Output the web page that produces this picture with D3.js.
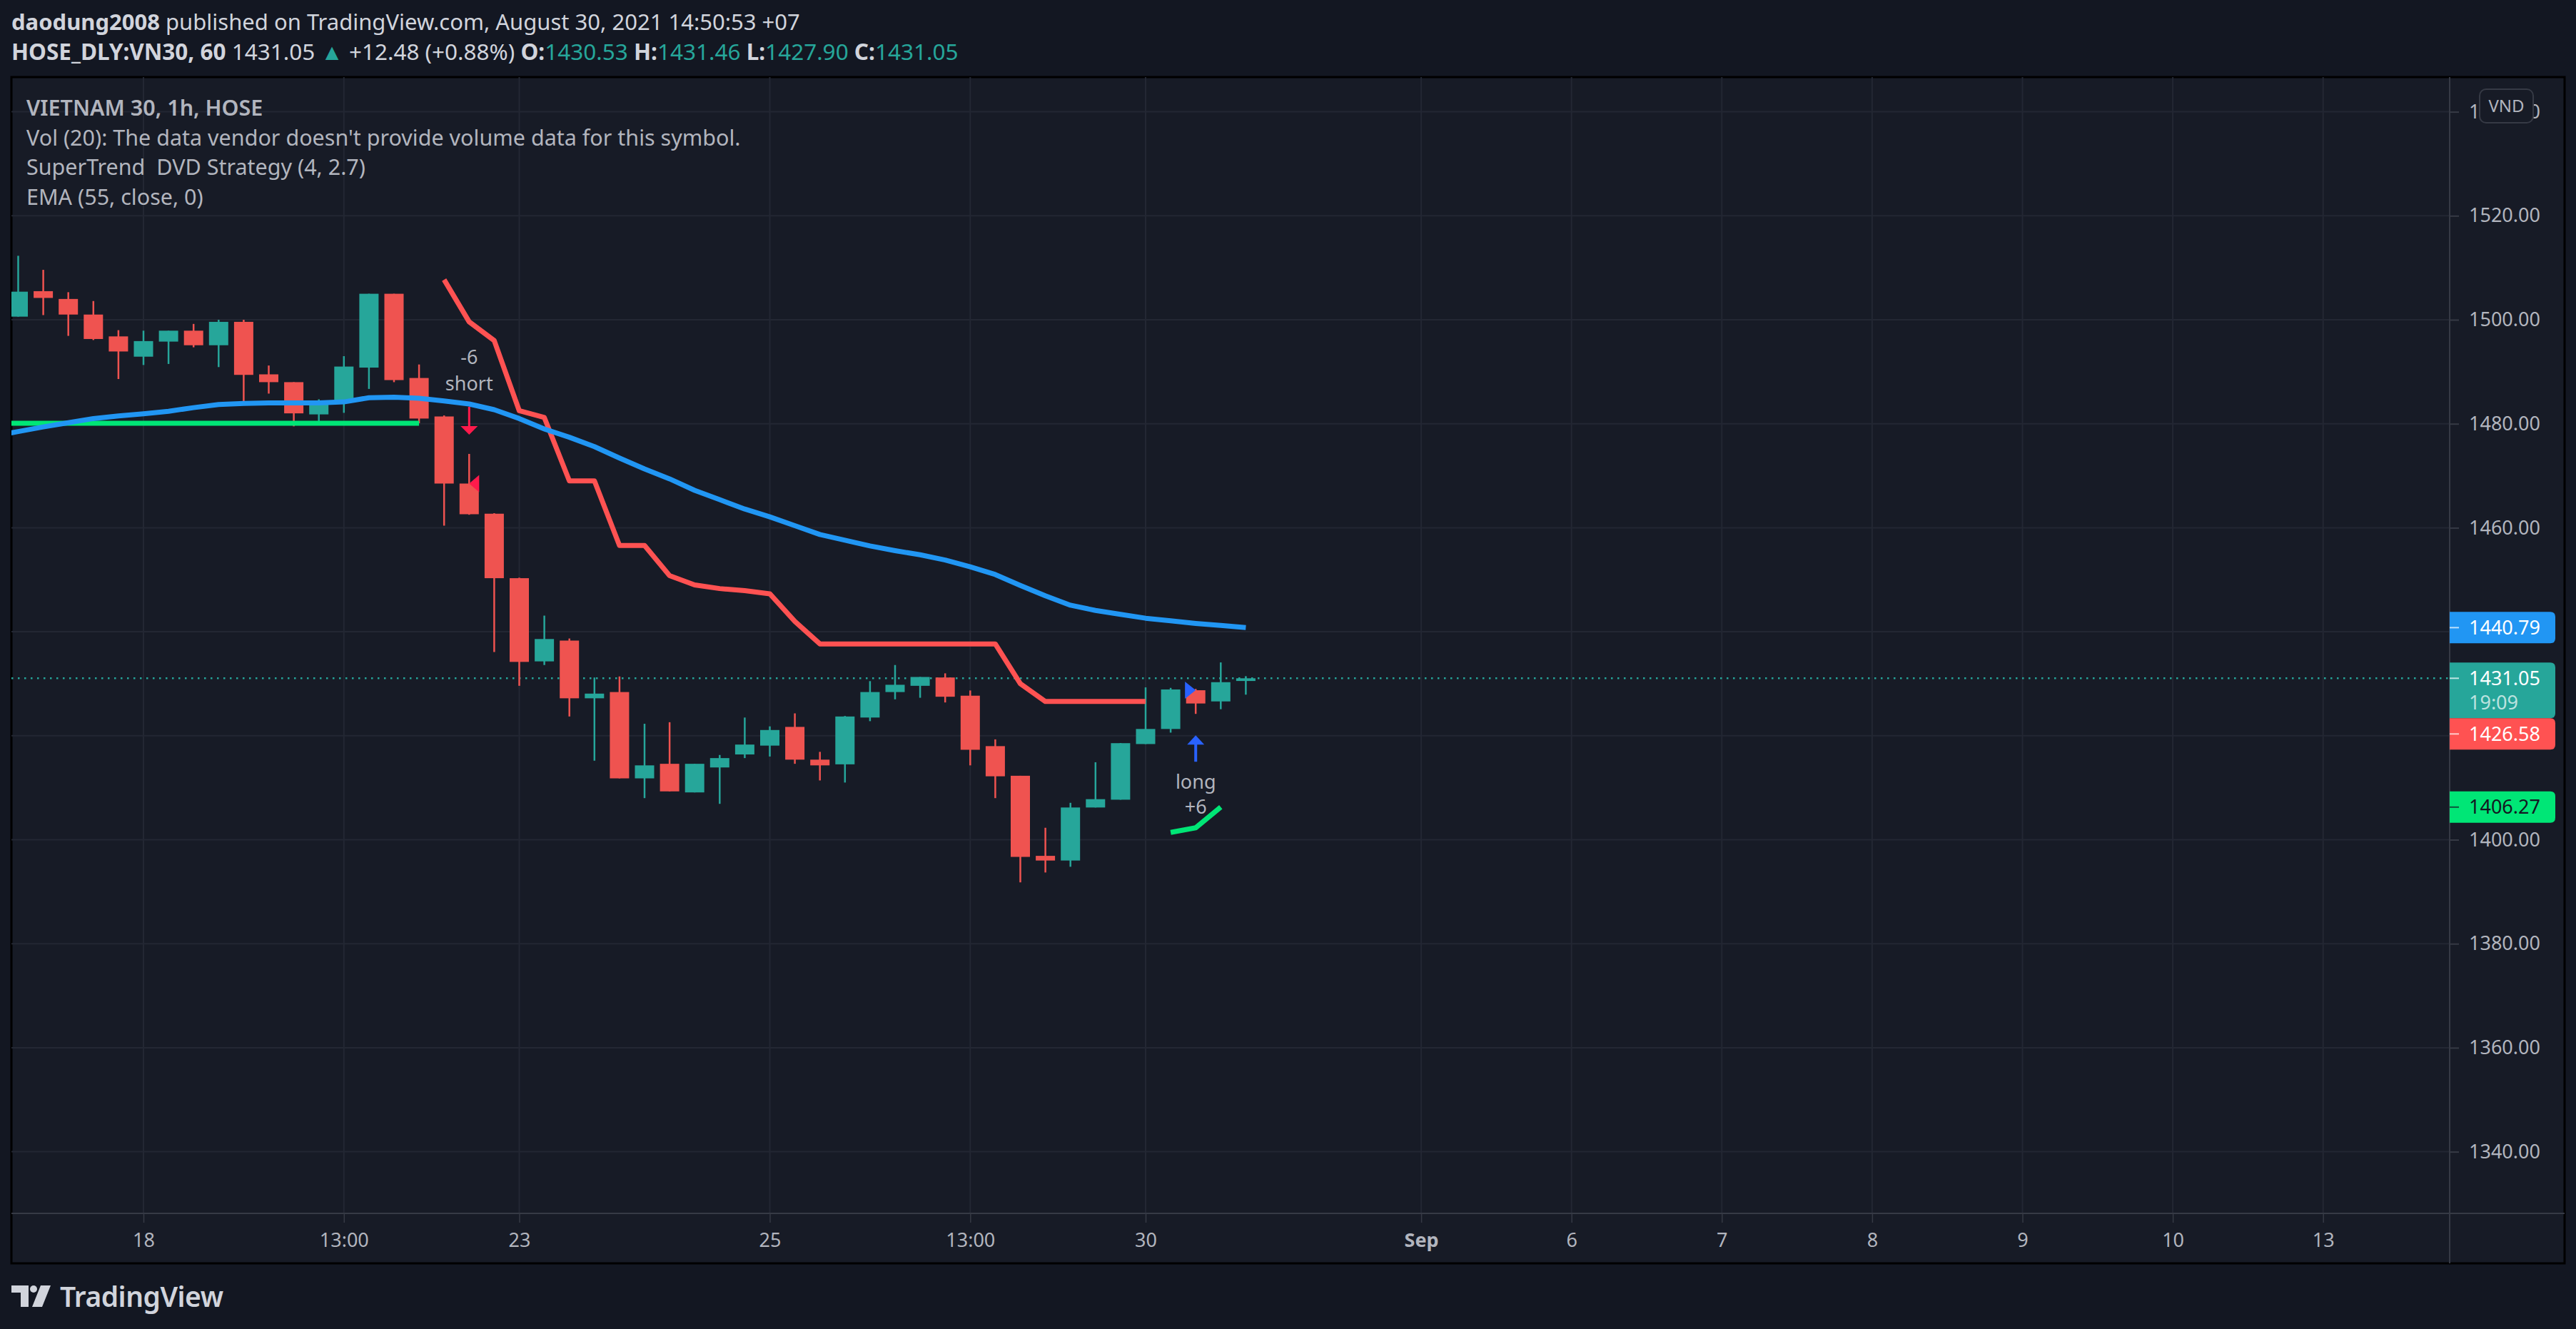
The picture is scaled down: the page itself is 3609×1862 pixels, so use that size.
<!DOCTYPE html>
<html>
<head>
<meta charset="utf-8">
<script src="https://cdn.jsdelivr.net/npm/d3@7"></script>
<style>
  body { margin: 0; background: #131722; }
  svg { display: block; }
  text { white-space: pre; }
</style>
</head>
<body>
<svg id="chart" width="3609" height="1862"></svg>
<script>
// --- data (bar 0 = Aug 17 09:00) ---
const opens  = [1500.6, 1505.5, 1504.0, 1501.0, 1496.8, 1492.9, 1495.8, 1497.9, 1495.1, 1499.6,
                1489.5, 1488.0, 1481.8, 1484.6, 1490.8, 1505.0, 1488.8, 1481.4, 1468.5, 1462.7,
                1450.3, 1434.3, 1438.3, 1427.2, 1428.4, 1411.8, 1414.6, 1409.1, 1413.9, 1416.4,
                1418.1, 1421.7, 1415.4, 1414.5, 1423.5, 1428.4, 1429.6, 1431.2, 1427.7, 1418.0,
                1412.3, 1396.9, 1396.0, 1406.2, 1407.7, 1418.4, 1421.3, 1428.75, 1426.6, 1430.53];
const highs  = [1512.3, 1509.6, 1505.3, 1503.6, 1498.0, 1497.9, 1497.9, 1499.2, 1500.0, 1500.0,
                1491.2, 1488.0, 1484.7, 1493.0, 1505.0, 1505.0, 1491.4, 1481.6, 1474.2, 1462.8,
                1450.4, 1443.1, 1438.7, 1431.2, 1431.4, 1422.3, 1422.6, 1414.6, 1416.3, 1423.5,
                1421.8, 1424.3, 1416.9, 1423.8, 1430.5, 1433.6, 1431.3, 1432.0, 1428.7, 1419.3,
                1412.3, 1402.3, 1407.1, 1414.9, 1418.6, 1429.3, 1429.2, 1429.0, 1434.1, 1431.46];
const lows   = [1500.6, 1500.9, 1496.9, 1496.1, 1488.6, 1491.3, 1491.5, 1494.7, 1490.9, 1484.2,
                1485.8, 1479.5, 1479.9, 1482.1, 1486.7, 1488.0, 1480.1, 1460.4, 1462.5, 1436.1,
                1429.6, 1433.6, 1423.7, 1415.2, 1411.8, 1408.0, 1409.3, 1409.1, 1406.9, 1415.7,
                1416.0, 1414.6, 1411.4, 1411.0, 1422.8, 1427.0, 1427.3, 1426.4, 1414.3, 1408.0,
                1391.8, 1393.7, 1394.8, 1406.2, 1407.7, 1418.4, 1420.6, 1424.2, 1425.1, 1427.90];
const closes = [1505.4, 1504.2, 1501.0, 1496.3, 1493.9, 1495.9, 1497.9, 1495.1, 1499.6, 1489.4,
                1488.0, 1482.0, 1484.4, 1491.0, 1505.0, 1488.4, 1481.0, 1468.5, 1462.6, 1450.3,
                1434.2, 1438.6, 1427.2, 1428.1, 1411.8, 1414.3, 1409.3, 1414.6, 1415.7, 1418.3,
                1421.1, 1415.4, 1414.3, 1423.7, 1428.4, 1429.8, 1431.3, 1427.5, 1417.3, 1412.2,
                1396.7, 1396.0, 1406.2, 1407.8, 1418.57, 1421.3, 1428.9, 1426.2, 1430.3, 1431.05];

// EMA (55, close) starting one bar left of the first visible candle
const emaStart = -1;
const ema55 = [1477.6, 1478.5, 1479.4, 1480.2, 1481.0, 1481.5, 1481.9, 1482.4, 1483.1, 1483.7,
               1483.9, 1484.0, 1484.0, 1484.0, 1484.2, 1485.0, 1485.1, 1484.9, 1484.4, 1483.8,
               1482.7, 1481.0, 1479.0, 1477.4, 1475.6, 1473.4, 1471.3, 1469.4, 1467.2, 1465.4,
               1463.6, 1462.1, 1460.4, 1458.7, 1457.6, 1456.5, 1455.6, 1454.8, 1453.8, 1452.5,
               1451.0, 1448.9, 1446.9, 1445.1, 1444.1, 1443.35, 1442.6, 1442.1, 1441.6, 1441.2, 1440.79];

// SuperTrend segments
const stUpStart = -1;
const stUp = [1480.1, 1480.1, 1480.1, 1480.1, 1480.1, 1480.1, 1480.1, 1480.1, 1480.1, 1480.1,
              1480.1, 1480.1, 1480.1, 1480.1, 1480.1, 1480.1, 1480.1, 1480.1];
const stDownStart = 17;
const stDown = [1507.7, 1499.6, 1496.0, 1482.5, 1481.2, 1469.0, 1469.0, 1456.6, 1456.6, 1450.8,
                1449.0, 1448.3, 1447.9, 1447.3, 1442.0, 1437.66, 1437.66, 1437.66, 1437.66, 1437.66,
                1437.66, 1437.66, 1437.66, 1430.0, 1426.58, 1426.58, 1426.58, 1426.58, 1426.58];
const stUp2Start = 46;
const stUp2 = [1401.4, 1402.3, 1406.27];

// strategy signals
const signalBars = [18, 47];
const signalSides = ['short', 'long'];
const signalQty = ['-6', '+6'];
const signalEntry = [1468.5, 1428.75];

// axes
const priceTicks = [1340, 1360, 1380, 1400, 1420, 1440, 1460, 1480, 1500, 1520, 1540];
const timeTickBars = [5, 13, 20, 30, 38, 45, 56, 62, 68, 74, 80, 86, 92];
const timeTickLabels = ['18', '13:00', '23', '25', '13:00', '30', 'Sep', '6', '7', '8', '9', '10', '13'];

// last values shown on the price scale
const priceLabels = [
  {value: 1440.79, fill: '#2196f3', color: '#ffffff'},
  {value: 1431.05, fill: '#26a69a', color: '#ffffff', sub: '19:09'},
  {value: 1426.58, fill: '#ff5252', color: '#ffffff'},
  {value: 1406.27, fill: '#00e676', color: '#131722'}
];

const lastClose = 1431.05;

// --- layout ---
const W = 3609, H = 1862;
const pane = {left: 16, top: 108, right: 3593, bottom: 1770};
const plot = {left: 16, top: 108, right: 3432, bottom: 1700};
const font = "'Noto Sans', 'Open Sans', sans-serif";
const up = '#26a69a', down = '#ef5350';

const x = d3.scaleLinear().domain([0, 1]).range([25.5, 60.6]);
const y = d3.scaleLinear().domain([1340, 1540]).range([1613.6, 156.6]);

const svg = d3.select('#chart');
svg.append('rect').attr('width', W).attr('height', H).attr('fill', '#131722');

// header
const head = svg.append('g').attr('font-family', font).attr('fill', '#d1d4dc');
const h1 = head.append('text').attr('x', 16).attr('y', 42).attr('font-size', 31);
h1.append('tspan').attr('font-weight', 700).text('daodung2008');
h1.append('tspan').text(' published on TradingView.com, August 30, 2021 14:50:53 +07');

const h2 = head.append('text').attr('x', 16).attr('y', 84).attr('font-size', 31.5);
const h2parts = [
  ['HOSE_DLY:VN30, 60', 700, null], [' 1431.05 ', 400, null], ['\u25B2', 400, up],
  [' +12.48 (+0.88%) ', 400, null], ['O:', 700, null], ['1430.53', 400, up],
  [' H:', 700, null], ['1431.46', 400, up], [' L:', 700, null], ['1427.90', 400, up],
  [' C:', 700, null], ['1431.05', 400, up]
];
h2parts.forEach(p => {
  const t = h2.append('tspan').attr('font-weight', p[1]).text(p[0]);
  if (p[2]) t.attr('fill', p[2]);
});

// pane
svg.append('rect')
  .attr('x', pane.left).attr('y', pane.top)
  .attr('width', pane.right - pane.left).attr('height', pane.bottom - pane.top)
  .attr('fill', '#171b26').attr('stroke', '#000').attr('stroke-width', 3);

// grid
const grid = svg.append('g').attr('stroke', '#232733').attr('stroke-width', 2);
grid.selectAll('line.h').data(priceTicks).join('line')
  .attr('x1', plot.left).attr('x2', plot.right)
  .attr('y1', d => y(d)).attr('y2', d => y(d));
grid.selectAll('line.v').data(timeTickBars).join('line')
  .attr('x1', d => x(d)).attr('x2', d => x(d))
  .attr('y1', plot.top).attr('y2', plot.bottom);

// separators
svg.append('line').attr('x1', plot.right).attr('x2', plot.right)
  .attr('y1', pane.top).attr('y2', pane.bottom).attr('stroke', '#363a45').attr('stroke-width', 2);
svg.append('line').attr('x1', pane.left).attr('x2', pane.right)
  .attr('y1', plot.bottom).attr('y2', plot.bottom).attr('stroke', '#363a45').attr('stroke-width', 2);

// legend
const legendLines = ['VIETNAM 30, 1h, HOSE', "Vol (20): The data vendor doesn't provide volume data for this symbol.",
  'SuperTrend  DVD Strategy (4, 2.7)', 'EMA (55, close, 0)'];
svg.append('g').attr('font-family', font).attr('font-size', 30.5).attr('fill', '#b2b5be')
  .selectAll('text').data(legendLines).join('text')
  .attr('x', 37).attr('y', (d, i) => 162 + i * 41.7)
  .attr('font-weight', (d, i) => i === 0 ? 600 : 400)
  .text(d => d);

// plot content, clipped
svg.append('clipPath').attr('id', 'clip').append('rect')
  .attr('x', plot.left).attr('y', plot.top)
  .attr('width', plot.right - plot.left).attr('height', plot.bottom - plot.top);
const g = svg.append('g').attr('clip-path', 'url(#clip)');

// last price dotted line
g.append('line').attr('x1', plot.left).attr('x2', plot.right)
  .attr('y1', y(lastClose)).attr('y2', y(lastClose))
  .attr('stroke', up).attr('stroke-width', 2.5).attr('stroke-dasharray', '2.5 6.5');

// candles
const bars = d3.range(opens.length);
const candle = g.selectAll('g.candle').data(bars).join('g')
  .attr('fill', i => closes[i] >= opens[i] ? up : down)
  .attr('stroke', i => closes[i] >= opens[i] ? up : down);
candle.append('line')
  .attr('x1', i => x(i)).attr('x2', i => x(i))
  .attr('y1', i => y(highs[i])).attr('y2', i => y(lows[i]))
  .attr('stroke-width', 2.5);
candle.append('rect')
  .attr('x', i => x(i) - 13.5).attr('width', 27)
  .attr('y', i => y(Math.max(opens[i], closes[i])))
  .attr('height', i => Math.max(2, Math.abs(y(opens[i]) - y(closes[i]))))
  .attr('stroke', 'none');

// indicator lines
const line = d3.line().x(d => x(d[0])).y(d => y(d[1]));
const series = (start, vals) => vals.map((v, k) => [start + k, v]);
const drawLine = (data, color) => g.append('path').attr('d', line(data))
  .attr('fill', 'none').attr('stroke', color).attr('stroke-width', 7)
  .attr('stroke-linejoin', 'round');
drawLine(series(stUpStart, stUp), '#00e676');
drawLine(series(stDownStart, stDown), '#ff5252');
drawLine(series(stUp2Start, stUp2), '#00e676');
drawLine(series(emaStart, ema55), '#2196f3');

// signals: arrow, label, entry marker
signalBars.forEach((b, k) => {
  const cx = x(b);
  const isShort = signalSides[k] === 'short';
  const col = isShort ? '#ff1a4b' : '#2962ff';
  const sg = g.append('g');
  if (isShort) {
    const tip = y(highs[b]) - 27;
    sg.append('rect').attr('x', cx - 1.5).attr('y', tip - 39).attr('width', 3).attr('height', 28).attr('fill', col);
    sg.append('path').attr('d', `M${cx - 12},${tip - 12}L${cx + 12},${tip - 12}L${cx},${tip}Z`).attr('fill', col);
    sg.append('text').attr('x', cx).attr('y', tip - 62).text('short');
    sg.append('text').attr('x', cx).attr('y', tip - 99).text(signalQty[k]);
    const ey = y(signalEntry[k]);
    sg.append('path').attr('d', `M${cx},${ey}L${cx + 14},${ey - 12}L${cx + 14},${ey + 12}Z`).attr('fill', col);
  } else {
    const tip = y(lows[b]) + 30;
    sg.append('rect').attr('x', cx - 2).attr('y', tip + 12).attr('width', 4).attr('height', 25).attr('fill', col);
    sg.append('path').attr('d', `M${cx - 12},${tip + 13}L${cx + 12},${tip + 13}L${cx},${tip}Z`).attr('fill', col);
    sg.append('text').attr('x', cx).attr('y', tip + 75).text('long');
    sg.append('text').attr('x', cx).attr('y', tip + 110).text(signalQty[k]);
    const ey = y(signalEntry[k]);
    sg.append('path').attr('d', `M${cx},${ey}L${cx - 15},${ey - 12}L${cx - 15},${ey + 12}Z`).attr('fill', col);
  }
  sg.selectAll('text').attr('text-anchor', 'middle').attr('font-family', font)
    .attr('font-size', 27).attr('fill', '#b2b5be');
});

// price axis
const yAxis = d3.axisRight(y).tickValues(priceTicks).tickFormat(d3.format('.2f'))
  .tickSize(13).tickPadding(14);
const ya = svg.append('g').attr('transform', `translate(${plot.right},0)`).call(yAxis);
ya.select('.domain').remove();
ya.selectAll('line').attr('stroke', '#363a45').attr('stroke-width', 2);
ya.selectAll('text').attr('fill', '#b2b5be').attr('font-family', font).attr('font-size', 27);

// time axis
const xAxis = d3.axisBottom(x).tickValues(timeTickBars).tickFormat((d, i) => timeTickLabels[i])
  .tickSize(13).tickPadding(15);
const xa = svg.append('g').attr('transform', `translate(0,${plot.bottom})`).call(xAxis);
xa.select('.domain').remove();
xa.selectAll('line').attr('stroke', '#363a45').attr('stroke-width', 1.5);
xa.selectAll('text').attr('fill', '#b2b5be').attr('font-family', font).attr('font-size', 27)
  .attr('font-weight', d => timeTickLabels[timeTickBars.indexOf(d)] === 'Sep' ? 700 : 400);

// VND badge over the top price label
svg.append('rect').attr('x', 3474).attr('y', 125).attr('width', 75).attr('height', 47).attr('rx', 9)
  .attr('fill', '#171b26').attr('stroke', '#363a45').attr('stroke-width', 2);
svg.append('text').attr('x', 3511.5).attr('y', 157).attr('text-anchor', 'middle')
  .attr('font-family', font).attr('font-size', 24).attr('fill', '#b2b5be').text('VND');

// price scale labels, pushed down so they do not overlap
let prevBottom = -Infinity;
priceLabels.forEach(l => {
  const h = l.sub ? 78 : 44;
  let top = y(l.value) - 22;
  if (top < prevBottom) top = prevBottom;
  prevBottom = top + h;
  const x0 = plot.right, x1 = 3580, r = 7;
  const lg = svg.append('g');
  lg.append('path')
    .attr('d', `M${x0},${top}H${x1 - r}Q${x1},${top} ${x1},${top + r}V${top + h - r}Q${x1},${top + h} ${x1 - r},${top + h}H${x0}Z`)
    .attr('fill', l.fill);
  lg.append('line').attr('x1', x0).attr('x2', x0 + 13).attr('y1', top + 22).attr('y2', top + 22)
    .attr('stroke', l.color).attr('stroke-opacity', 0.7).attr('stroke-width', 2);
  lg.append('text').attr('x', 3459).attr('y', top + 31.5).attr('font-family', font)
    .attr('font-size', 27).attr('fill', l.color).text(l.value.toFixed(2));
  if (l.sub) {
    lg.append('text').attr('x', 3459).attr('y', top + 66).attr('font-family', font)
      .attr('font-size', 27).attr('fill', l.color).attr('fill-opacity', 0.7).text(l.sub);
  }
});

// TradingView logo
const logo = svg.append('g').attr('transform', 'translate(16,1801)').attr('fill', '#d1d4dc');
logo.append('path').attr('d', 'M0,0H24V30H13V10H0Z');
logo.append('circle').attr('cx', 31).attr('cy', 5).attr('r', 5);
logo.append('path').attr('d', 'M41,0H55L43,30H29Z');
logo.append('text').attr('x', 68).attr('y', 30).attr('font-family', font).attr('font-weight', 600)
  .attr('font-size', 39).attr('letter-spacing', -0.5).text('TradingView');
</script>
</body>
</html>
